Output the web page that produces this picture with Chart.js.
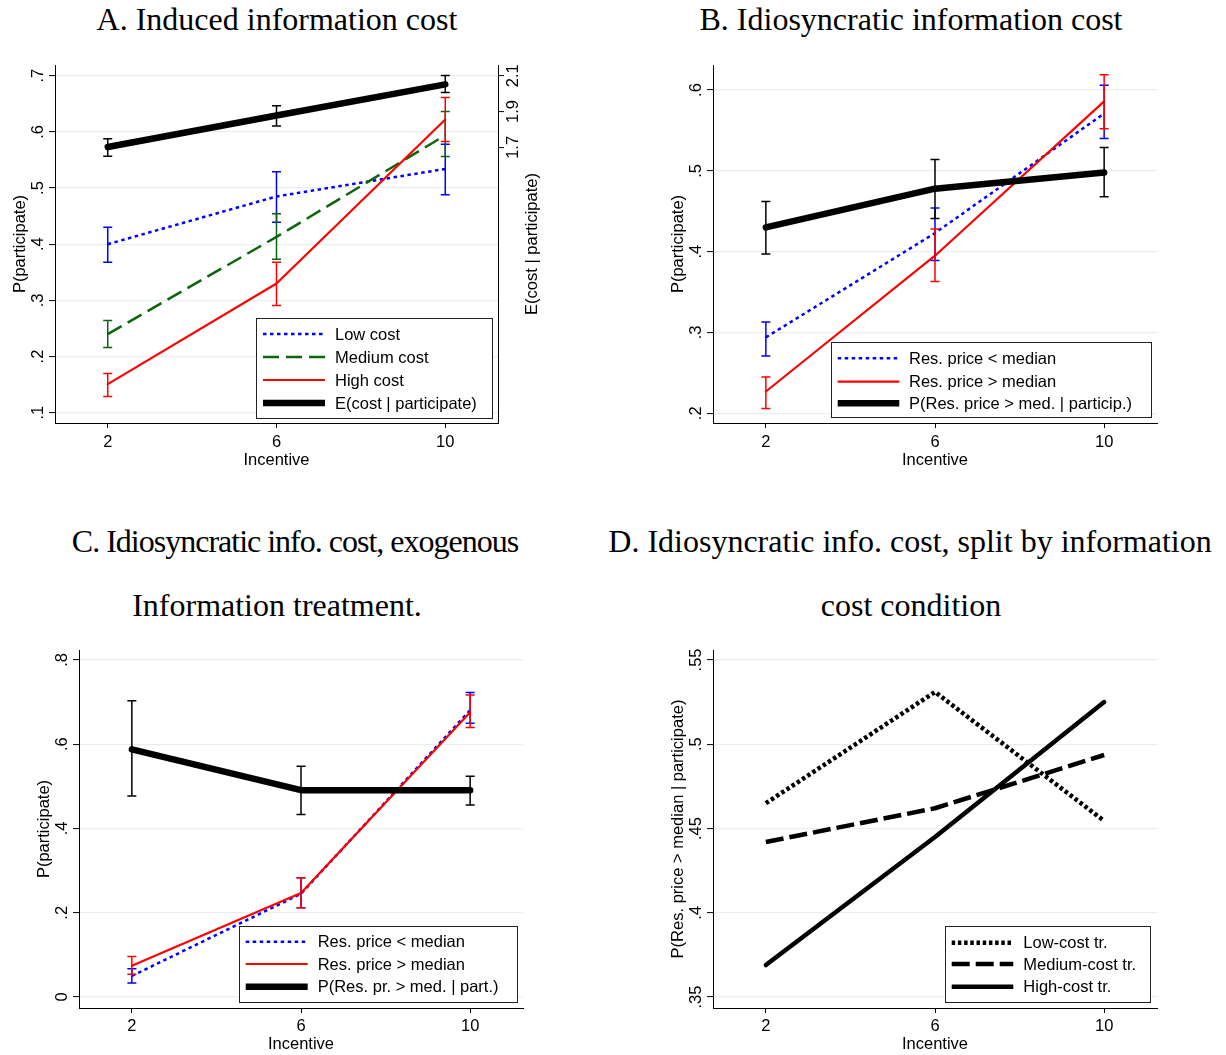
<!DOCTYPE html>
<html><head><meta charset="utf-8">
<script src="https://cdn.jsdelivr.net/npm/chart.js@4"></script>
<style>
body{margin:0;background:#fff;width:1226px;height:1055px;position:relative;overflow:hidden}
canvas{position:absolute}
.t{position:absolute;width:700px;text-align:center;font-family:"Liberation Serif","Times New Roman",serif;font-size:32px;line-height:32px;color:#000;white-space:nowrap}
</style></head><body>
<div class="t" style="left:-73px;top:3px">A. Induced information cost</div>
<div class="t" style="left:561px;top:3px">B. Idiosyncratic information cost</div>
<div class="t" style="left:-55px;top:525px;letter-spacing:-1px">C. Idiosyncratic info. cost, exogenous</div>
<div class="t" style="left:-73px;top:589px">Information treatment.</div>
<div class="t" style="left:560px;top:525px">D. Idiosyncratic info. cost, split by information</div>
<div class="t" style="left:561px;top:589px">cost condition</div>
<canvas id="cA" width="613" height="430" style="left:0;top:50px"></canvas>
<canvas id="cB" width="613" height="430" style="left:613px;top:50px"></canvas>
<canvas id="cC" width="613" height="415" style="left:0;top:640px"></canvas>
<canvas id="cD" width="613" height="415" style="left:613px;top:640px"></canvas>
<script>
// ---------- data ----------
const incentive = [2, 6, 10];
const xTickValues = [2, 6, 10];
const xTickLabels = ['2', '6', '10'];

// Panel A
const aLowCost  = [0.400, 0.485, 0.534];
const aLowLo    = [0.368, 0.439, 0.488];
const aLowHi    = [0.430, 0.529, 0.578];
const aMedCost  = [0.240, 0.413, 0.594];
const aMedLo    = [0.216, 0.373, 0.556];
const aMedHi    = [0.264, 0.454, 0.636];
const aHighCost = [0.151, 0.330, 0.622];
const aHighLo   = [0.129, 0.291, 0.583];
const aHighHi   = [0.170, 0.368, 0.661];
const aECost    = [1.702, 1.878, 2.052];
const aECostLo  = [1.650, 1.819, 2.006];
const aECostHi  = [1.748, 1.933, 2.102];
const aLeftTicks = [0.1, 0.2, 0.3, 0.4, 0.5, 0.6, 0.7];
const aLeftLabels = ['.1', '.2', '.3', '.4', '.5', '.6', '.7'];
const aRightTicks = [1.7, 1.9, 2.1];
const aRightLabels = ['1.7', '1.9', '2.1'];

// Panel B
const bBelow   = [0.294, 0.423, 0.571];
const bBelowLo = [0.271, 0.389, 0.540];
const bBelowHi = [0.313, 0.454, 0.606];
const bAbove   = [0.227, 0.395, 0.586];
const bAboveLo = [0.206, 0.363, 0.552];
const bAboveHi = [0.245, 0.428, 0.619];
const bShare   = [0.430, 0.478, 0.498];
const bShareLo = [0.397, 0.441, 0.468];
const bShareHi = [0.462, 0.514, 0.529];
const bTicks = [0.2, 0.3, 0.4, 0.5, 0.6];
const bLabels = ['.2', '.3', '.4', '.5', '.6'];

// Panel C
const cBelow   = [0.050, 0.245, 0.681];
const cBelowLo = [0.033, 0.212, 0.650];
const cBelowHi = [0.067, 0.283, 0.723];
const cAbove   = [0.074, 0.247, 0.676];
const cAboveLo = [0.054, 0.212, 0.640];
const cAboveHi = [0.096, 0.283, 0.717];
const cShare   = [0.588, 0.491, 0.491];
const cShareLo = [0.477, 0.433, 0.456];
const cShareHi = [0.703, 0.548, 0.524];
const cTicks = [0, 0.2, 0.4, 0.6, 0.8];
const cLabels = ['0', '.2', '.4', '.6', '.8'];

// Panel D
const dLowTr  = [0.465, 0.531, 0.4545];
const dMedTr  = [0.442, 0.462, 0.4936];
const dHighTr = [0.369, 0.445, 0.525];
const dTicks = [0.35, 0.4, 0.45, 0.5, 0.55];
const dLabels = ['.35', '.4', '.45', '.5', '.55'];

// ---------- styling ----------
const FONT = "'Liberation Sans', Arial, Helvetica, sans-serif";
const FS = 16.5;
const GRID = '#e6eef1';
const BLUE = '#0000ff', GREEN = '#0b650b', RED = '#ff0000', BLACK = '#000000';

const customPlugin = {
  id: 'custom',
  afterDatasetsDraw(chart) {
    const ctx = chart.ctx;
    const xs = chart.scales.x;
    chart.data.datasets.forEach(ds => {
      if (!ds.errLo) return;
      const ys = chart.scales[ds.yAxisID || 'y'];
      ctx.save();
      ctx.strokeStyle = ds.borderColor;
      ctx.lineWidth = 1.5;
      ctx.setLineDash([]);
      incentive.forEach((xv, i) => {
        const x = xs.getPixelForValue(xv);
        const y1 = ys.getPixelForValue(ds.errLo[i]);
        const y2 = ys.getPixelForValue(ds.errHi[i]);
        ctx.beginPath();
        ctx.moveTo(x, y1); ctx.lineTo(x, y2);
        ctx.moveTo(x - 4.5, y1); ctx.lineTo(x + 4.5, y1);
        ctx.moveTo(x - 4.5, y2); ctx.lineTo(x + 4.5, y2);
        ctx.stroke();
      });
      ctx.restore();
    });
  },
  afterDraw(chart) {
    const o = chart.options.plugins.custom;
    const ctx = chart.ctx;
    const ca = chart.chartArea;
    ctx.save();
    ctx.fillStyle = '#000';
    ctx.font = FS + 'px ' + FONT;
    const rot = (text, x, y) => {
      ctx.save(); ctx.translate(x, y); ctx.rotate(-Math.PI / 2);
      ctx.textAlign = 'center'; ctx.textBaseline = 'alphabetic';
      ctx.fillText(text, 0, 0); ctx.restore();
    };
    // y tick labels and titles
    o.yAxes.forEach(ax => {
      const sc = chart.scales[ax.id];
      ax.values.forEach((v, i) => {
        const y = sc.getPixelForValue(v);
        const x = ax.side === 'left' ? ca.left - 12 : ca.right + 20;
        rot(ax.labels[i], x, y);
      });
      const tx = ax.side === 'left' ? ca.left - 30 : ca.right + 39;
      rot(ax.title, tx, (ca.top + ca.bottom) / 2);
    });
    // legend
    const L = o.legend;
    ctx.fillStyle = '#fff';
    ctx.fillRect(L.box[0], L.box[1], L.box[2] - L.box[0], L.box[3] - L.box[1]);
    ctx.strokeStyle = '#222';
    ctx.lineWidth = 1;
    ctx.strokeRect(Math.round(L.box[0]) + 0.5, Math.round(L.box[1]) + 0.5,
                   Math.round(L.box[2] - L.box[0]), Math.round(L.box[3] - L.box[1]));
    chart.data.datasets.forEach((ds, i) => {
      const y = L.rows[i];
      ctx.save();
      ctx.strokeStyle = ds.borderColor;
      ctx.lineWidth = ds.borderWidth;
      ctx.setLineDash(ds.borderDash || []);
      ctx.lineCap = 'butt';
      ctx.beginPath(); ctx.moveTo(L.sample[0], y); ctx.lineTo(L.sample[1], y); ctx.stroke();
      ctx.restore();
      ctx.fillStyle = '#000';
      ctx.textAlign = 'left'; ctx.textBaseline = 'middle';
      ctx.fillText(ds.label, L.textX, y + 1);
    });
    ctx.restore();
  }
};

function yScale(min, max, ticks, width, pos, onArea) {
  return {
    type: 'linear', position: pos, min: min, max: max,
    afterBuildTicks: sc => { sc.ticks = ticks.map(v => ({ value: v })); },
    afterFit: sc => { sc.width = width; },
    grid: { display: true, drawOnChartArea: onArea, color: GRID, lineWidth: 1.2,
            drawTicks: true, tickLength: 6, tickColor: '#000', tickWidth: 1 },
    border: { display: true, color: '#000', width: 1 },
    ticks: { display: false }
  };
}

function makeChart(id, spec) {
  const n = spec.series.length;
  const datasets = spec.series.map((s, i) => ({
    label: s.label,
    data: incentive.map((x, j) => ({ x: x, y: s.values[j] })),
    errLo: s.lo, errHi: s.hi,
    borderColor: s.color, backgroundColor: s.color,
    borderWidth: s.width, borderDash: s.dash || [],
    borderCapStyle: s.dash ? 'butt' : 'round', borderJoinStyle: 'round',
    pointRadius: 0, pointHoverRadius: 0, tension: 0, fill: false,
    yAxisID: s.axis || 'y', order: n - i
  }));
  const scales = {
    x: {
      type: 'linear', position: 'bottom', min: 0.75, max: 11.25,
      afterBuildTicks: sc => { sc.ticks = xTickValues.map(v => ({ value: v })); },
      afterFit: sc => { sc.height = spec.xH; },
      grid: { display: true, drawOnChartArea: false, drawTicks: true, tickLength: 5, tickColor: '#000', tickWidth: 1 },
      border: { display: true, color: '#000', width: 1 },
      ticks: { display: true, color: '#000', font: { family: FONT, size: FS }, padding: spec.xTickPad,
               autoSkip: false, maxRotation: 0, minRotation: 0,
               callback: v => xTickLabels[xTickValues.indexOf(v)] },
      title: { display: true, text: 'Incentive', color: '#000', font: { family: FONT, size: FS },
               padding: { top: 0, bottom: spec.xTitlePad } }
    },
    y: yScale(spec.yMin, spec.yMax, spec.yTicks, spec.yW, 'left', true)
  };
  if (spec.y2) scales.y2 = yScale(spec.y2.min, spec.y2.max, spec.y2.ticks, spec.y2.w, 'right', false);
  return new Chart(document.getElementById(id), {
    type: 'line',
    data: { datasets: datasets },
    options: {
      responsive: false, animation: false, events: [],
      layout: { padding: spec.pad },
      scales: scales,
      plugins: { legend: { display: false }, tooltip: { enabled: false },
                 custom: { yAxes: spec.yAxes, legend: spec.legend } }
    },
    plugins: [customPlugin]
  });
}

makeChart('cA', {
  series: [
    { label: 'Low cost', values: aLowCost, lo: aLowLo, hi: aLowHi, color: BLUE, width: 2.5, dash: [3.5, 3.5] },
    { label: 'Medium cost', values: aMedCost, lo: aMedLo, hi: aMedHi, color: GREEN, width: 2.5, dash: [16, 7] },
    { label: 'High cost', values: aHighCost, lo: aHighLo, hi: aHighHi, color: RED, width: 2.2 },
    { label: 'E(cost | participate)', values: aECost, lo: aECostLo, hi: aECostHi, color: BLACK, width: 6.5, axis: 'y2' }
  ],
  yMin: 0.0817, yMax: 0.719, yTicks: aLeftTicks, yW: 55,
  y2: { min: 0.160, max: 2.160, ticks: aRightTicks, w: 115 },
  xH: 57, xTickPad: 5, xTitlePad: 10,
  pad: { top: 15, left: 0, right: 0, bottom: 0 },
  yAxes: [
    { id: 'y', side: 'left', values: aLeftTicks, labels: aLeftLabels, title: 'P(participate)' },
    { id: 'y2', side: 'right', values: aRightTicks, labels: aRightLabels, title: 'E(cost | participate)' }
  ],
  legend: { box: [256, 268, 492, 367.7], rows: [284, 307, 330, 353], sample: [263, 325], textX: 335 }
});

makeChart('cB', {
  series: [
    { label: 'Res. price < median', values: bBelow, lo: bBelowLo, hi: bBelowHi, color: BLUE, width: 2.5, dash: [3.5, 3.5] },
    { label: 'Res. price > median', values: bAbove, lo: bAboveLo, hi: bAboveHi, color: RED, width: 2.2 },
    { label: 'P(Res. price > med. | particip.)', values: bShare, lo: bShareLo, hi: bShareHi, color: BLACK, width: 6.5 }
  ],
  yMin: 0.188, yMax: 0.631, yTicks: bTicks, yW: 100,
  xH: 57, xTickPad: 5, xTitlePad: 10,
  pad: { top: 15, left: 0, right: 69, bottom: 0 },
  yAxes: [ { id: 'y', side: 'left', values: bTicks, labels: bLabels, title: 'P(participate)' } ],
  legend: { box: [217.7, 292.3, 537.7, 367.7], rows: [308.3, 331.7, 353.3], sample: [224.7, 286.3], textX: 296 }
});

makeChart('cC', {
  series: [
    { label: 'Res. price < median', values: cBelow, lo: cBelowLo, hi: cBelowHi, color: BLUE, width: 2.5, dash: [3.5, 3.5] },
    { label: 'Res. price > median', values: cAbove, lo: cAboveLo, hi: cAboveHi, color: RED, width: 2.2 },
    { label: 'P(Res. pr. > med. | part.)', values: cShare, lo: cShareLo, hi: cShareHi, color: BLACK, width: 6.5 }
  ],
  yMin: -0.0261, yMax: 0.8237, yTicks: cTicks, yW: 79,
  xH: 47, xTickPad: 4, xTitlePad: 1,
  pad: { top: 10, left: 0, right: 90, bottom: 0 },
  yAxes: [ { id: 'y', side: 'left', values: cTicks, labels: cLabels, title: 'P(participate)' } ],
  legend: { box: [238.7, 285.7, 516.7, 361.7], rows: [301.7, 324, 346.7], sample: [245.7, 307.7], textX: 317.7 }
});

makeChart('cD', {
  series: [
    { label: 'Low-cost tr.', values: dLowTr, color: BLACK, width: 4.5, dash: [3.5, 2.7] },
    { label: 'Medium-cost tr.', values: dMedTr, color: BLACK, width: 4.5, dash: [18, 6] },
    { label: 'High-cost tr.', values: dHighTr, color: BLACK, width: 4.5 }
  ],
  yMin: 0.3435, yMax: 0.5559, yTicks: dTicks, yW: 100,
  xH: 47, xTickPad: 4, xTitlePad: 1,
  pad: { top: 10, left: 0, right: 69, bottom: 0 },
  yAxes: [ { id: 'y', side: 'left', values: dTicks, labels: dLabels, title: 'P(Res. price > median | participate)' } ],
  legend: { box: [332, 285.7, 537, 361.7], rows: [302.7, 324, 346.7], sample: [338.7, 400.3], textX: 410.3 }
});
</script>
</body></html>
